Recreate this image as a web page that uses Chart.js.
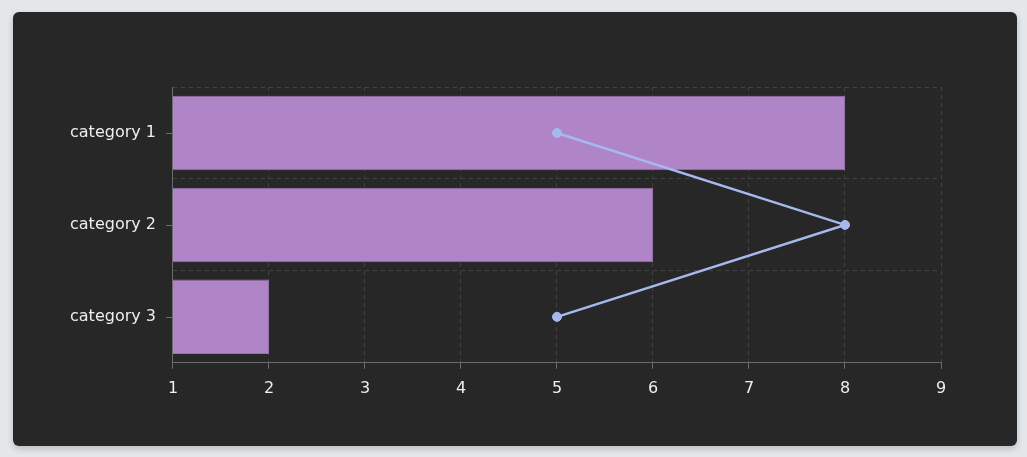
<!DOCTYPE html>
<html lang="en">
<head>
    <meta charset="UTF-8">
    <title>Categories</title>
    <script src="https://cdn.jsdelivr.net/npm/chart.js"></script>
    <style>
        html, body {
            margin: 0;
            padding: 0;
            background: #e3e7ea;
        }

        .card {
            position: absolute;
            left: 13px;
            top: 12px;
            width: 1004px;
            height: 434px;
            background: #272727;
            border-radius: 6px;
            box-shadow: 0 3px 6px rgba(0, 0, 0, 0.18);
        }
    </style>
</head>
<body>
    <div class="card">
        <canvas id="chart"></canvas>
    </div>

    <script>
        const categories = ['category 1', 'category 2', 'category 3'];
        const barValues = [8, 6, 2];
        const lineValues = [5, 8, 5];
        const xTicks = [1, 2, 3, 4, 5, 6, 7, 8, 9];

        const gridColor = 'rgba(255, 255, 255, 0.13)';
        const axisColor = '#6b6b6b';
        const textColor = '#eeeeee';

        // y tick marks sit at the category centres, grid lines at the boundaries
        const centreTicks = {
            id: 'centreTicks',
            afterDatasetsDraw(chart) {
                const y = chart.scales.y;
                const c = chart.ctx;
                c.save();
                c.strokeStyle = axisColor;
                c.lineWidth = 1;
                c.beginPath();
                categories.forEach((_, i) => {
                    const py = Math.round(y.getPixelForValue(i)) + 0.5;
                    c.moveTo(y.right - 7, py);
                    c.lineTo(y.right, py);
                });
                c.stroke();
                c.restore();
            }
        };

        const ctx = document.getElementById('chart').getContext('2d');
        new Chart(ctx, {
            data: {
                labels: categories,
                datasets: [
                    {
                        type: 'line',
                        indexAxis: 'y',
                        data: lineValues,
                        borderColor: '#a6b8f0',
                        backgroundColor: '#a6b8f0',
                        borderWidth: 2.5,
                        pointRadius: 4.5,
                        pointBorderWidth: 1,
                        order: 0
                    },
                    {
                        type: 'bar',
                        data: barValues,
                        backgroundColor: '#af85c8',
                        borderColor: '#9a72b0',
                        borderWidth: 1,
                        categoryPercentage: 0.9,
                        barPercentage: 0.9,
                        order: 1
                    }
                ]
            },
            options: {
                indexAxis: 'y',
                responsive: true,
                maintainAspectRatio: false,
                animation: false,
                layout: {
                    padding: { left: 40, top: 75, right: 76, bottom: 38 }
                },
                plugins: {
                    legend: { display: false },
                    tooltip: { enabled: false }
                },
                scales: {
                    x: {
                        type: 'linear',
                        min: xTicks[0],
                        max: xTicks[xTicks.length - 1],
                        afterBuildTicks: axis => {
                            axis.ticks = xTicks.map(v => ({ value: v }));
                        },
                        grid: {
                            color: gridColor,
                            tickColor: axisColor,
                            tickLength: 6,
                            tickBorderDash: []
                        },
                        border: { color: axisColor, dash: [4, 4] },
                        ticks: {
                            color: textColor,
                            padding: 10,
                            font: { family: 'DejaVu Sans', size: 16 }
                        }
                    },
                    y: {
                        grid: {
                            color: gridColor,
                            drawTicks: false
                        },
                        border: { color: axisColor, dash: [4, 4] },
                        ticks: {
                            color: textColor,
                            padding: 17,
                            font: { family: 'DejaVu Sans', size: 16 }
                        }
                    }
                }
            },
            plugins: [centreTicks]
        });
    </script>
</body>
</html>
